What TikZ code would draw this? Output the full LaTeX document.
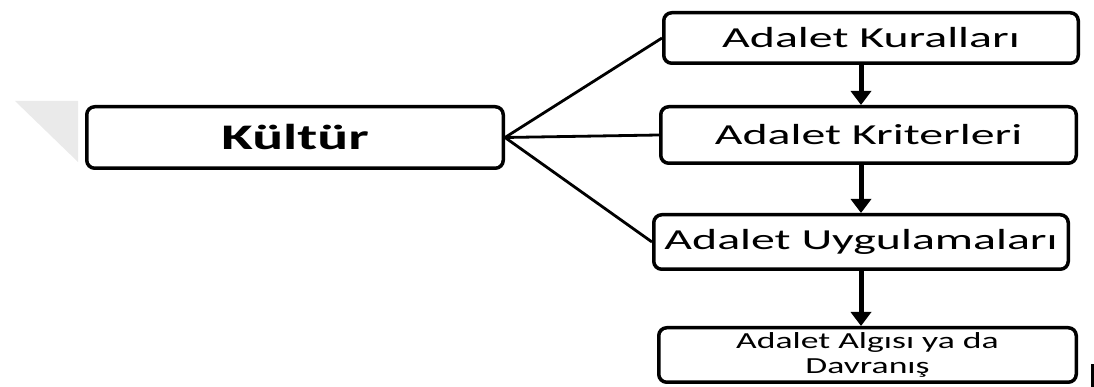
\documentclass[tikz,border=0pt]{standalone}
\usepackage{fontspec}
\setmainfont{Carlito}
\usepackage{graphicx}
\usepackage{tikz}
\usetikzlibrary{arrows.meta}
\usepackage{xcolor}
\definecolor{ColInk}{RGB}{0,0,0}
\definecolor{ColShade}{RGB}{234,234,234}
\newcommand{\Wide}[2][1.65]{\scalebox{#1}[1]{#2}}
\tikzstyle{BoxMain}=[draw=ColInk,rounded corners=8pt,line width=3.5pt,inner sep=0pt,
font=\fontsize{36}{40}\selectfont\bfseries]
\tikzstyle{BoxStep}=[draw=ColInk,rounded corners=8pt,line width=3.5pt,inner sep=0pt,
font=\fontsize{29}{32}\selectfont]
\tikzstyle{EdgeLink}=[ColInk,line width=2.8pt]
\tikzstyle{EdgeFlow}=[ColInk,line width=5pt,-{Triangle[width=20pt,length=14pt]}]

\begin{document}
\begin{tikzpicture}[x=1pt,y=1pt]
        \useasboundingbox (0,0) rectangle (1094,387);
        \fill[ColShade] (15,286) -- (78,286) -- (78,225) -- cycle;
        \node[BoxMain,minimum width=416.5pt,minimum height=61.5pt](k)at(295,249.5){\Wide[1.6]{Kültür}};
        \node[BoxStep,minimum width=414.5pt,minimum height=50.5pt](r)at(871,349){\Wide{Adalet Kuralları}};
        \node[BoxStep,minimum width=415.5pt,minimum height=56.5pt](c)at(868.5,252){\Wide{Adalet Kriterleri}};
        \node[BoxStep,minimum width=414.5pt,minimum height=54.5pt](u)at(861,145){\Wide{Adalet Uygulamaları}};
        \node[BoxStep,minimum width=417.5pt,minimum height=54.5pt,align=center,
            font=\fontsize{23}{25}\selectfont](p)at(867.5,32)
            {\Wide[1.55]{Adalet Algısı ya da}\\\Wide[1.55]{Davranış}};
        \coordinate(ax)at(861,0);
        \draw[EdgeLink](k.east)--(r.west);
        \draw[EdgeLink](k.east)--(c.west);
        \draw[EdgeLink](k.east)--(u.west);
        \draw[EdgeFlow](r.south-|ax)--(c.north-|ax);
        \draw[EdgeFlow](c.south-|ax)--(u.north-|ax);
        \draw[EdgeFlow](u.south-|ax)--(p.north-|ax);
        \fill[ColInk](1091,0)rectangle(1094,23);
    \end{tikzpicture}
\end{document}
